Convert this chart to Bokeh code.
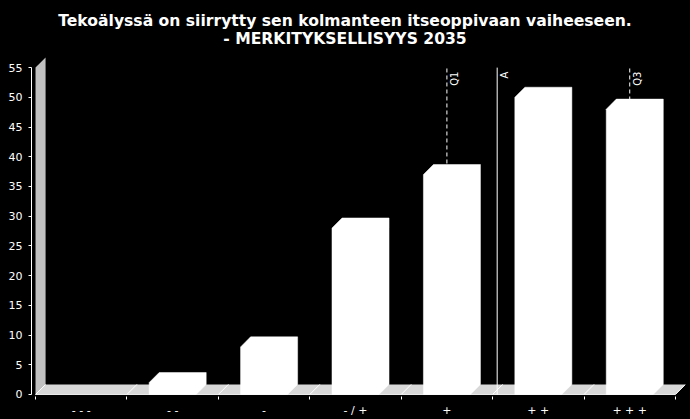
import numpy as np
from bokeh.plotting import figure
from bokeh.models import FixedTicker, Range1d
from bokeh.core.properties import value
from bokeh.embed import file_html
from bokeh.resources import INLINE

# ---- data ----
title_line1 = "Tekoälyssä on siirrytty sen kolmanteen itseoppivaan vaiheeseen."
title_line2 = "- MERKITYKSELLISYYS 2035"
categories = ["- - -", "- -", "-", "- / +", "+", "+ +", "+ + +"]
values = [0, 2, 8, 28, 37, 50, 48]
y_ticks = [0, 5, 10, 15, 20, 25, 30, 35, 40, 45, 50, 55]
marker_names = ["Q1", "A", "Q3"]
marker_pos = [4.0, 4.55, 6.0]          # category index of Q1, mean (A), Q3
marker_dash = ["4 3", "solid", "4 3"]

# ---- style constants ----
W, H = 690, 419
LEFT, RIGHT, BOTTOM = 31, 5, 23     # borders (px); frame reaches the top edge
Y_MAX = 55
DX = 0.11     # 3D depth, category units
DY = 1.7      # 3D depth, value units
X0 = 0.044    # gap between y axis and wall
Y0 = 0.34     # gap between floor and x axis
PX_PER_Y = 5.943
HALF = 0.257  # half bar width
FONT = "DejaVu Sans"
TITLE_CX_PX = 344.5                 # title centre (px from left)
TITLE_BASE_PX = [20.7, 38.5]        # title baselines (px from top)

n = len(categories)
frame_h = H - BOTTOM
y_top = -Y0 + frame_h / PX_PER_Y
x_end = n + DX
px_per_x = (W - LEFT - RIGHT) / (x_end + X0)

p = figure(width=W, height=H, output_backend="svg", toolbar_location=None,
           title_location=None,
           x_range=Range1d(-X0, x_end), y_range=Range1d(-Y0, y_top),
           background_fill_color="black", border_fill_color="black",
           min_border_left=LEFT, min_border_right=RIGHT, min_border_top=0,
           min_border_bottom=BOTTOM)
p.outline_line_color = None
p.grid.visible = False

# two-line title
tx = -X0 + (TITLE_CX_PX - LEFT) / px_per_x
ty = [-Y0 + (frame_h - b) / PX_PER_Y for b in TITLE_BASE_PX]
p.text(x=[tx, tx], y=ty, text=[title_line1, title_line2], text_align="center",
       text_baseline="alphabetic", text_color="white", text_font=value(FONT),
       text_font_size="15.6px", text_font_style="bold")

# 3D back wall and floor
p.patch([0, 0, DX, DX], [0, Y_MAX, Y_MAX + DY, DY], color="#c0c0c0", line_width=0)
p.patch([0, n, n + DX, DX], [0, 0, DY, DY], color="#d8d8d8", line_width=0)
p.segment(x0=list(range(n + 1)), y0=[0] * (n + 1),
          x1=[i + DX for i in range(n + 1)], y1=[DY] * (n + 1),
          line_color="white", line_width=1)
p.segment(x0=[0], y0=[0], x1=[n], y1=[0], line_color="#eeeeee", line_width=1)

# Q1 / A / Q3 markers
mx = [m + 0.5 for m in marker_pos]
for x, dash in zip(mx, marker_dash):
    p.segment(x0=[x], y0=[0], x1=[x], y1=[Y_MAX], line_color="white",
              line_width=1, line_dash=dash)
p.text(x=mx, y=[Y_MAX] * len(mx), text=marker_names, angle=np.pi / 2,
       text_align="right", text_baseline="top", x_offset=2, y_offset=4,
       text_color="white", text_font=value(FONT), text_font_size="10px")

# 3D bars (silhouette)
xs, ys = [], []
for i, v in enumerate(values):
    if v <= 0:
        continue
    x0 = i + 0.5 - HALF
    x1 = i + 0.5 + HALF
    xs.append([x0, x0, x0 + DX, x1 + DX, x1 + DX, x1])
    ys.append([0, v, v + DY, v + DY, DY, 0])
p.patches(xs, ys, fill_color="white", line_color="white", line_width=0.5)

# axes
ya = p.yaxis[0]
ya.ticker = FixedTicker(ticks=y_ticks)
ya.bounds = (0, Y_MAX)
ya.axis_line_color = "white"
ya.major_tick_line_color = "white"
ya.major_tick_out = 3
ya.major_tick_in = 0
ya.minor_tick_line_color = None
ya.major_label_text_color = "white"
ya.major_label_text_font = FONT
ya.major_label_text_font_size = "11px"
ya.major_label_standoff = 6

xa = p.xaxis[0]
xa.ticker = FixedTicker(ticks=[i + 0.5 for i in range(n)], minor_ticks=list(range(n + 1)))
xa.major_label_overrides = {i + 0.5: c for i, c in enumerate(categories)}
xa.bounds = (0, n)
xa.axis_line_color = None
xa.major_tick_line_color = None
xa.major_tick_out = 0
xa.major_tick_in = 0
xa.minor_tick_line_color = "white"
xa.minor_tick_out = 3
xa.minor_tick_in = 0
xa.major_label_text_color = "white"
xa.major_label_text_font = FONT
xa.major_label_text_font_size = "11px"
xa.major_label_standoff = 4

TEMPLATE = "{% block preamble %}<style>html, body { background: #000000; }</style>{% endblock %}"
open("out.html", "w").write(file_html(p, INLINE, template=TEMPLATE))
